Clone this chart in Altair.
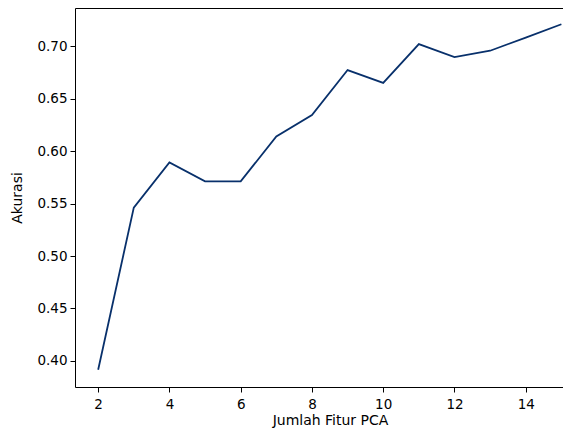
import altair as alt
import pandas as pd

fitur = [2, 3, 4, 5, 6, 7, 8, 9, 10, 11, 12, 13, 14, 15]
akurasi = [0.3915, 0.5462, 0.5893, 0.5712, 0.5712, 0.6142, 0.6345, 0.6775,
           0.6652, 0.7022, 0.6898, 0.6959, 0.7085, 0.7212]
x_ticks = [2, 4, 6, 8, 10, 12, 14]
y_ticks = [0.40, 0.45, 0.50, 0.55, 0.60, 0.65, 0.70]

df = pd.DataFrame({"Jumlah Fitur PCA": fitur, "Akurasi": akurasi})

FONT = "DejaVu Sans"
xscale = alt.Scale(domain=[1.35, 15.27], nice=False, zero=False)
yscale = alt.Scale(domain=[0.375, 0.7367], nice=False, zero=False)
yaxis = alt.Axis(values=y_ticks, format=".2f", grid=False,
                 title="Akurasi", titlePadding=12, labelPadding=3)

line = alt.Chart(df).mark_line(color="#08306b", strokeWidth=1.8).encode(
    x=alt.X("Jumlah Fitur PCA:Q", scale=xscale,
            axis=alt.Axis(values=x_ticks, format="d", grid=False,
                          title="Jumlah Fitur PCA", titlePadding=3,
                          labelPadding=5, titleX=255, titleAlign="center")),
    y=alt.Y("Akurasi:Q", scale=yscale, axis=yaxis),
)

top = alt.Chart(df).mark_line(opacity=0).encode(
    x=alt.X("Jumlah Fitur PCA:Q", scale=xscale,
            axis=alt.Axis(orient="top", labels=False, ticks=False, title=None,
                          grid=False)),
    y=alt.Y("Akurasi:Q", scale=yscale, axis=yaxis),
)

chart = alt.layer(line, top).resolve_axis(x="independent").properties(
    width=496, height=379,
    autosize=alt.AutoSizeParams(type="none"),
    padding={"left": 67, "top": 0, "right": -8, "bottom": 45},
).configure_view(stroke=None).configure_axis(
    domainColor="#000000", domainWidth=1, tickColor="#000000", tickSize=5,
    tickWidth=1, labelFont=FONT, titleFont=FONT, labelFontSize=13.5,
    titleFontSize=14, labelColor="#000000", titleColor="#000000",
    titleFontWeight="normal",
)

chart.save("out.html", embed_options={"renderer": "svg", "actions": False})
